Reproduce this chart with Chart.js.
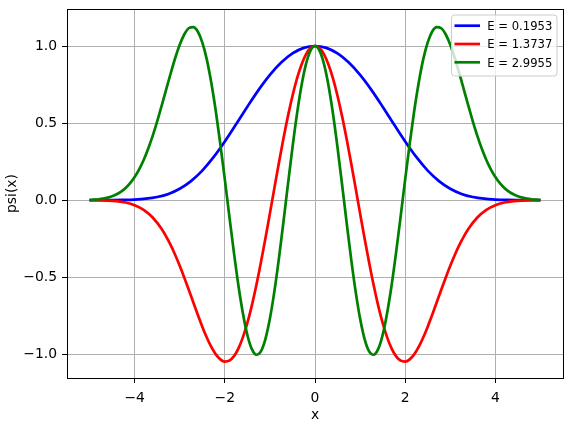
<!DOCTYPE html>
<html><head><meta charset="utf-8">
<script src="https://cdn.jsdelivr.net/npm/chart.js@4.4.0/dist/chart.umd.min.js"></script>
<style>html,body{margin:0;padding:0;background:#fff;}</style>
</head><body>
<canvas id="c" width="571" height="428"></canvas>
<script>
const seriesLabels = ['E = 0.1953', 'E = 1.3737', 'E = 2.9955'];
const seriesColors = ['#0000ff', '#ff0000', '#008000'];
const xTicks = [-4, -2, 0, 2, 4];
const yTicks = [-1.0, -0.5, 0.0, 0.5, 1.0];
const xLabel = 'x';
const yLabel = 'psi(x)';

const xBlue = [-5, -4.75, -4.5, -4.25, -4, -3.75, -3.5, -3.25, -3, -2.75, -2.5, -2.25, -2, -1.75, -1.5, -1.25, -1, -0.75, -0.5, -0.25,
  0, 0.25, 0.5, 0.75, 1, 1.25, 1.5, 1.75, 2, 2.25, 2.5, 2.75, 3, 3.25, 3.5, 3.75, 4, 4.25, 4.5, 4.75, 5];
const yBlue = [0, 0.0001, 0.0004, 0.0014, 0.0037, 0.0090, 0.0199, 0.0399, 0.0735, 0.1234, 0.1915, 0.2784, 0.3805, 0.4922, 0.6064, 0.7154, 0.8125, 0.8924, 0.9516, 0.9878,
  1.0, 0.9878, 0.9516, 0.8924, 0.8125, 0.7154, 0.6064, 0.4922, 0.3805, 0.2784, 0.1915, 0.1234, 0.0735, 0.0399, 0.0199, 0.0090, 0.0037, 0.0014, 0.0004, 0.0001, 0];

const xRed = [-5, -4.8, -4.6, -4.4, -4.2, -4, -3.8, -3.6, -3.4, -3.2,
  -3.1, -3, -2.9, -2.8, -2.7, -2.6, -2.5, -2.4, -2.3, -2.2, -2.1, -2, -1.9, -1.8, -1.7, -1.6, -1.5, -1.4, -1.3, -1.2, -1.1, -1, -0.9, -0.8, -0.7, -0.6, -0.5, -0.4, -0.3, -0.2, -0.1,
  0, 0.1, 0.2, 0.3, 0.4, 0.5, 0.6, 0.7, 0.8, 0.9, 1, 1.1, 1.2, 1.3, 1.4, 1.5, 1.6, 1.7, 1.8, 1.9, 2, 2.1, 2.2, 2.3, 2.4, 2.5, 2.6, 2.7, 2.8, 2.9, 3, 3.1,
  3.2, 3.4, 3.6, 3.8, 4, 4.2, 4.4, 4.6, 4.8, 5];
const yRed = [0, -0.0009, -0.0028, -0.0069, -0.0156, -0.0326, -0.0630, -0.1129, -0.1881, -0.2926,
  -0.3560, -0.4260, -0.5018, -0.5813, -0.6629, -0.7436, -0.8211, -0.8919, -0.9529, -1.0013, -1.0336, -1.0482, -1.0421, -1.0142, -0.9638, -0.8911, -0.7969, -0.6828, -0.5514, -0.4056, -0.2492, -0.0861, 0.0793, 0.2426, 0.3992, 0.5450, 0.6758, 0.7882, 0.8789, 0.9456, 0.9863,
  1.0, 0.9863, 0.9456, 0.8789, 0.7882, 0.6758, 0.5450, 0.3992, 0.2426, 0.0793, -0.0861, -0.2492, -0.4056, -0.5514, -0.6828, -0.7969, -0.8911, -0.9638, -1.0142, -1.0421, -1.0482, -1.0336, -1.0013, -0.9529, -0.8919, -0.8211, -0.7436, -0.6629, -0.5813, -0.5018, -0.4260, -0.3560,
  -0.2926, -0.1881, -0.1129, -0.0630, -0.0326, -0.0156, -0.0069, -0.0028, -0.0009, 0];

const xGreen = [-5, -4.9, -4.8, -4.7, -4.6, -4.5, -4.4, -4.3, -4.2, -4.1, -4, -3.9, -3.8, -3.7, -3.6, -3.5, -3.4, -3.3, -3.2, -3.1,
  -3, -2.9, -2.8, -2.7, -2.6, -2.5, -2.4, -2.3, -2.2, -2.1, -2, -1.9, -1.8, -1.7, -1.6, -1.5, -1.4, -1.3, -1.2, -1.1,
  -1, -0.9, -0.8, -0.7, -0.6, -0.5, -0.4, -0.3, -0.2, -0.1, 0, 0.1, 0.2, 0.3, 0.4, 0.5, 0.6, 0.7, 0.8, 0.9,
  1, 1.1, 1.2, 1.3, 1.4, 1.5, 1.6, 1.7, 1.8, 1.9, 2, 2.1, 2.2, 2.3, 2.4, 2.5, 2.6, 2.7, 2.8, 2.9,
  3, 3.1, 3.2, 3.3, 3.4, 3.5, 3.6, 3.7, 3.8, 3.9, 4, 4.1, 4.2, 4.3, 4.4, 4.5, 4.6, 4.7, 4.8, 4.9, 5];
const yGreen = [0, 0.0025, 0.0056, 0.0099, 0.0161, 0.0253, 0.0378, 0.0551, 0.0786, 0.1096, 0.1495, 0.1997, 0.2607, 0.3337, 0.4172, 0.5114, 0.6124, 0.7184, 0.8232, 0.9222,
  1.0083, 1.0747, 1.1153, 1.1226, 1.0938, 1.0231, 0.9132, 0.7619, 0.5779, 0.3644, 0.1342, -0.1036, -0.3358, -0.5508, -0.7322, -0.8752, -0.9673, -1.0036, -0.9814, -0.9018,
  -0.7690, -0.5909, -0.3777, -0.1420, 0.1021, 0.3401, 0.5578, 0.7423, 0.8826, 0.9702, 1.0, 0.9702, 0.8826, 0.7423, 0.5578, 0.3401, 0.1021, -0.1420, -0.3777, -0.5909,
  -0.7690, -0.9018, -0.9814, -1.0036, -0.9673, -0.8752, -0.7322, -0.5508, -0.3358, -0.1036, 0.1342, 0.3644, 0.5779, 0.7619, 0.9132, 1.0231, 1.0938, 1.1226, 1.1153, 1.0747,
  1.0083, 0.9222, 0.8232, 0.7184, 0.6124, 0.5114, 0.4172, 0.3337, 0.2607, 0.1997, 0.1495, 0.1096, 0.0786, 0.0551, 0.0378, 0.0253, 0.0161, 0.0099, 0.0056, 0.0025, 0];

function pts(xs, ys) { return xs.map((x, i) => ({x: x, y: ys[i]})); }
function fmt(v, d) { const s = Math.abs(v).toFixed(d); return v < 0 ? '\u2212' + s : s; }

Chart.defaults.font.family = "'DejaVu Sans', sans-serif";
Chart.defaults.color = '#000';

const FS = 13.9;

const framePlugin = {
  id: 'frame',
  afterDatasetsDraw(chart) {
    const a = chart.chartArea, c = chart.ctx;
    c.save();
    c.strokeStyle = '#000';
    c.lineWidth = 1;
    c.strokeRect(Math.round(a.left) + 0.5, Math.round(a.top) + 0.5, Math.round(a.right - a.left), Math.round(a.bottom - a.top));
    c.restore();
  }
};

const legendPlugin = {
  id: 'mplLegend',
  afterDraw(chart) {
    const c = chart.ctx;
    const bx = 451.5, by = 15, bw = 105.5, bh = 61, r = 3;
    c.save();
    c.beginPath();
    c.moveTo(bx + r, by);
    c.lineTo(bx + bw - r, by); c.arcTo(bx + bw, by, bx + bw, by + r, r);
    c.lineTo(bx + bw, by + bh - r); c.arcTo(bx + bw, by + bh, bx + bw - r, by + bh, r);
    c.lineTo(bx + r, by + bh); c.arcTo(bx, by + bh, bx, by + bh - r, r);
    c.lineTo(bx, by + r); c.arcTo(bx, by, bx + r, by, r);
    c.closePath();
    c.fillStyle = 'rgba(255,255,255,0.8)';
    c.fill();
    c.strokeStyle = '#cccccc';
    c.lineWidth = 1;
    c.stroke();
    c.font = "11.6px 'DejaVu Sans', sans-serif";
    c.textBaseline = 'alphabetic';
    c.textAlign = 'left';
    chart.data.datasets.forEach((ds, i) => {
      const y = 25.7 + i * 18.3;
      c.strokeStyle = ds.borderColor;
      c.lineWidth = 2.7;
      c.lineCap = 'butt';
      c.beginPath(); c.moveTo(454.5, y); c.lineTo(480, y); c.stroke();
      c.fillStyle = '#000';
      c.fillText(ds.label, 487.3, y + 4.3);
    });
    c.restore();
  }
};

const gridOpts = {color: '#b0b0b0', lineWidth: 1, tickColor: '#000', tickLength: 5, tickWidth: 1};

new Chart(document.getElementById('c'), {
  type: 'line',
  data: {
    datasets: [
      {label: seriesLabels[0], data: pts(xBlue, yBlue), borderColor: seriesColors[0], order: 3},
      {label: seriesLabels[1], data: pts(xRed, yRed), borderColor: seriesColors[1], order: 2},
      {label: seriesLabels[2], data: pts(xGreen, yGreen), borderColor: seriesColors[2], order: 1}
    ]
  },
  options: {
    responsive: false,
    animation: false,
    devicePixelRatio: 1,
    layout: {padding: {top: 9, right: 8, left: 0, bottom: 0}},
    elements: {
      point: {radius: 0, hoverRadius: 0},
      line: {borderWidth: 2.7, cubicInterpolationMode: 'monotone', fill: false, borderCapStyle: 'butt', borderJoinStyle: 'round'}
    },
    plugins: {legend: {display: false}, tooltip: {enabled: false}},
    events: [],
    scales: {
      x: {
        type: 'linear', min: -5.5, max: 5.5,
        afterBuildTicks: s => { s.ticks = xTicks.map(v => ({value: v})); },
        afterFit: s => { s.height = 50; s.paddingLeft = 0; s.paddingRight = 0; },
        grid: gridOpts,
        border: {display: false},
        ticks: {font: {size: FS}, color: '#000', padding: 7, maxRotation: 0, autoSkip: false, callback: v => fmt(v, 0)},
        title: {display: true, text: xLabel, color: '#000', font: {size: FS}, padding: {top: 0, bottom: 4.5}}
      },
      y: {
        type: 'linear', min: -1.1544, max: 1.2401,
        afterBuildTicks: s => { s.ticks = yTicks.map(v => ({value: v})); },
        afterFit: s => { s.width = 67; s.paddingTop = 0; s.paddingBottom = 0; },
        grid: gridOpts,
        border: {display: false},
        ticks: {font: {size: FS}, color: '#000', padding: 5, autoSkip: false, callback: v => fmt(v, 1)},
        title: {display: true, text: yLabel, color: '#000', font: {size: FS}, padding: {top: 3.7, bottom: 0}}
      }
    }
  },
  plugins: [framePlugin, legendPlugin]
});
</script>
</body></html>
